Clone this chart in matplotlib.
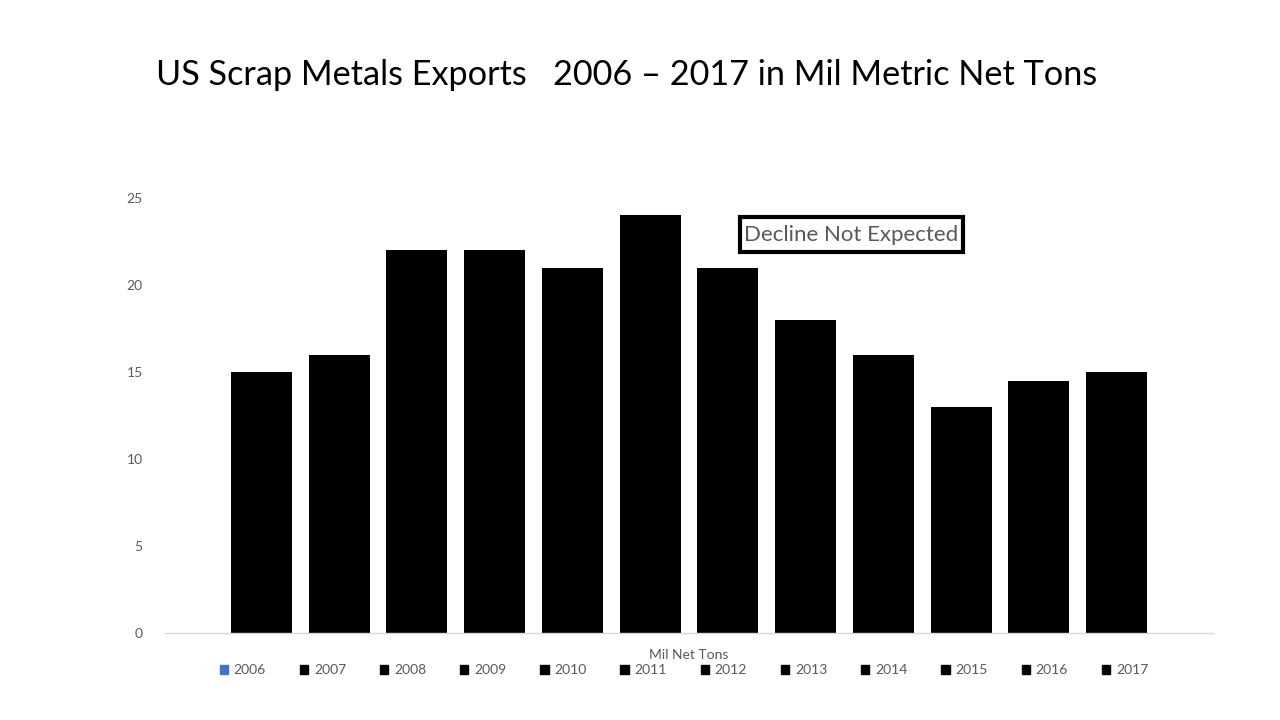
import matplotlib
matplotlib.use("Agg")
import matplotlib.pyplot as plt
from matplotlib.patches import Patch, Rectangle

years = ["2006", "2007", "2008", "2009", "2010", "2011", "2012", "2013", "2014", "2015", "2016", "2017"]
values = [15, 16, 22, 22, 21, 24, 21, 18, 16, 13, 14.5, 15]
legend_colors = ["#4472C4"] + ["#000000"] * 11
yticks = [0, 5, 10, 15, 20, 25]

plt.rcParams['font.family'] = ['Lato', 'DejaVu Sans']
GRAY = "#595959"

fig = plt.figure(figsize=(12.8, 7.2), dpi=100)
ax = fig.add_axes([165/1280, 87/720, (1213-165)/1280, (633-198)/720])

x = list(range(len(years)))
ax.bar(x, values, width=0.785, color="#000000")
ax.set_xlim(-1.24, 12.24)
ax.set_ylim(0, 25)
ax.set_yticks(yticks)
ax.set_xticks([])
ax.tick_params(axis='y', length=0, colors=GRAY, labelsize=10, pad=16)
for s in ["top", "right", "left"]:
    ax.spines[s].set_visible(False)
ax.spines["bottom"].set_color("#D9D9D9")
ax.spines["bottom"].set_linewidth(1)

fig.text(626.5/1280, 1 - 75/720, "US Scrap Metals Exports   2006 \u2013 2017 in Mil Metric Net Tons",
         ha="center", va="center", fontsize=24.7, fontweight="normal", color="#000000")

fig.text(689/1280, 1 - 655/720, "Mil Net Tons", ha="center", va="center", fontsize=10, color=GRAY)

handles = [Patch(facecolor=c, edgecolor=c) for c in legend_colors]
leg = fig.legend(handles, years, loc="center", bbox_to_anchor=(684/1280, 1 - 670/720), ncol=12,
                 frameon=False, fontsize=10, handlelength=0.6, handleheight=0.6,
                 handletextpad=0.4, columnspacing=2.45)
for t in leg.get_texts():
    t.set_color(GRAY)

box = Rectangle((740/1280, 1 - 252/720), (963-740)/1280, (252-217)/720, transform=fig.transFigure,
                facecolor="white", edgecolor="black", linewidth=3, zorder=5)
fig.add_artist(box)
fig.text(851/1280, 1 - 235/720, "Decline Not Expected", ha="center", va="center",
         fontsize=16, color=GRAY, zorder=6)

fig.savefig("out.png", dpi=100)
